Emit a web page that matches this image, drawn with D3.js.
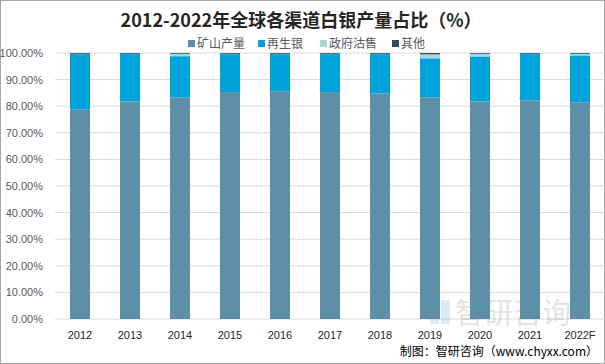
<!DOCTYPE html>
<html>
<head>
<meta charset="utf-8">
<script src="https://cdn.jsdelivr.net/npm/d3@7"></script>
<style>
  body { margin: 0; background: #fff; }
  svg { display: block; font-family: "Microsoft YaHei", "Noto Sans CJK SC", sans-serif; }
</style>
</head>
<body>
<div id="chart"></div>
<script>
const years = ["2012", "2013", "2014", "2015", "2016", "2017", "2018", "2019", "2020", "2021", "2022F"];
const series = ["矿山产量", "再生银", "政府沽售", "其他"];
const mining = [78.7, 81.8, 83.3, 85.3, 85.6, 85.3, 84.8, 83.3, 81.8, 82.2, 81.5];
const govt = [0.1, 0.1, 0.9, 0.1, 0.1, 0.1, 0.1, 1.5, 1.0, 0.1, 0.6];
const other = [0.3, 0.3, 0.3, 0.3, 0.3, 0.3, 0.3, 0.5, 0.3, 0.3, 0.3];
const recycled = years.map((y, i) => 100 - mining[i] - govt[i] - other[i]);
const yTicks = [0, 10, 20, 30, 40, 50, 60, 70, 80, 90, 100];
const colors = ["#5d8fa7", "#00a2db", "#a3d9d9", "#2e4d5e"];

const W = 605, H = 364;
const svg = d3.select("#chart").append("svg").attr("width", W).attr("height", H);

svg.append("rect")
  .attr("x", 0.5).attr("y", 0.5).attr("width", W - 1).attr("height", H - 1)
  .attr("fill", "#fff").attr("stroke", "#a6a6a6");

const x = d3.scaleBand().domain(years).range([55, 605]).paddingInner(0.6).paddingOuter(0.3);
const y = d3.scaleLinear().domain([0, 100]).range([319, 53]);

// grid
svg.append("g").selectAll("line")
  .data(yTicks)
  .enter()
  .append("line")
  .attr("x1", 55).attr("x2", 605)
  .attr("y1", d => y(d)).attr("y2", d => y(d))
  .attr("stroke", "#d9d9d9");

// y axis labels
svg.append("g").selectAll("text")
  .data(yTicks)
  .enter()
  .append("text")
  .attr("x", 43)
  .attr("y", d => y(d) + 4)
  .attr("text-anchor", "end")
  .attr("font-size", "11px")
  .attr("fill", "#595959")
  .attr("font-family", "Liberation Sans, Arial, sans-serif")
  .text(d => d.toFixed(2) + "%");

// watermark (behind bars' labels)
const wm = svg.append("g").attr("opacity", 0.16);
wm.append("rect").attr("x", 430).attr("y", 300).attr("width", 9).attr("height", 24).attr("fill", "#5a7fa0");
wm.append("rect").attr("x", 441).attr("y", 300).attr("width", 9).attr("height", 24).attr("fill", "#1f8bd0");
wm.append("text").attr("x", 455).attr("y", 324).attr("font-size", "29px").attr("fill", "#555").text("智研咨询");

// stacked bars
const rows = years.map((yr, i) => ({ year: yr, "矿山产量": mining[i], "再生银": recycled[i], "政府沽售": govt[i], "其他": other[i] }));
const stacked = d3.stack().keys(series)(rows);

svg.append("g").selectAll("g")
  .data(stacked)
  .enter()
  .append("g")
  .attr("fill", (d, i) => colors[i])
  .selectAll("rect")
  .data(d => d)
  .enter()
  .append("rect")
  .attr("x", d => x(d.data.year))
  .attr("width", x.bandwidth())
  .attr("y", d => y(d[1]))
  .attr("height", d => y(d[0]) - y(d[1]));

// x labels
svg.append("g").selectAll("text")
  .data(years)
  .enter()
  .append("text")
  .attr("x", d => x(d) + x.bandwidth() / 2)
  .attr("y", 339)
  .attr("text-anchor", "middle")
  .attr("font-size", "11px")
  .attr("fill", "#262626")
  .attr("font-family", "Liberation Sans, Arial, sans-serif")
  .text(d => d);

// title
svg.append("text")
  .attr("x", 301).attr("y", 27)
  .attr("text-anchor", "middle")
  .attr("font-size", "18px")
  .attr("font-weight", "bold")
  .attr("fill", "#262626")
  .text("2012-2022年全球各渠道白银产量占比（%）");

// legend
const legendX = [188, 258, 320, 392];
const lg = svg.append("g").selectAll("g")
  .data(series)
  .enter()
  .append("g")
  .attr("transform", (d, i) => `translate(${legendX[i]}, 40)`);
lg.append("rect").attr("width", 7).attr("height", 7).attr("fill", (d, i) => colors[i]);
lg.append("text").attr("x", 9).attr("y", 8).attr("font-size", "12px").attr("fill", "#595959").text(d => d);

// source
svg.append("text")
  .attr("x", 598).attr("y", 356)
  .attr("text-anchor", "end")
  .attr("font-size", "12px")
  .attr("fill", "#000")
  .text("制图：智研咨询（www.chyxx.com）");
</script>
</body>
</html>
